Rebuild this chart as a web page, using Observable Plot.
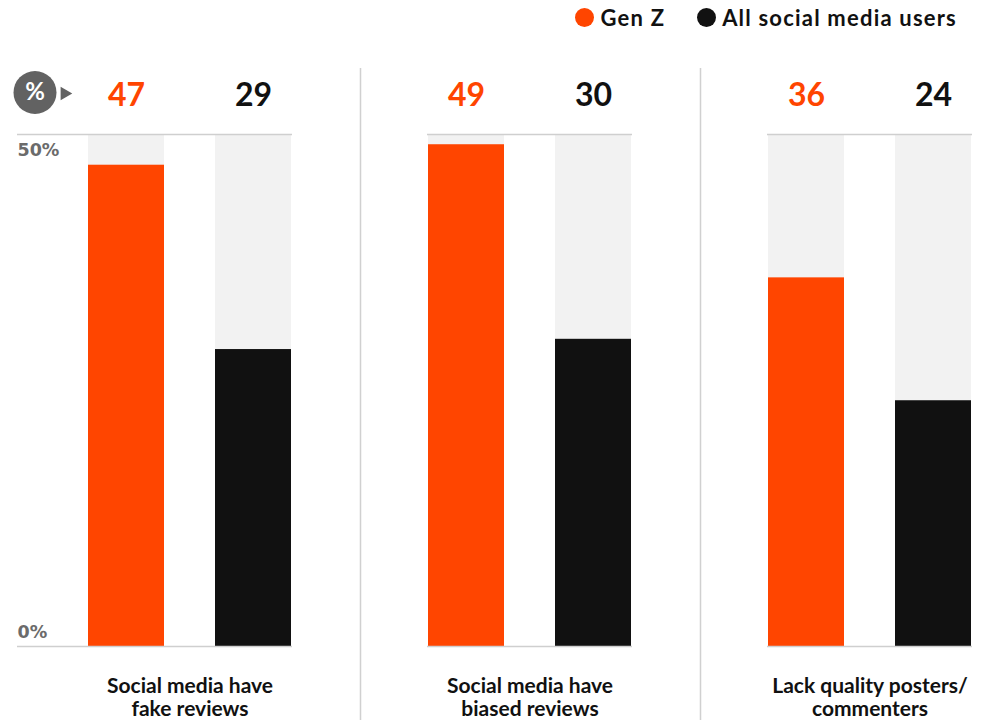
<!DOCTYPE html>
<html><head><meta charset="utf-8">
<script src="https://cdn.jsdelivr.net/npm/d3@7"></script>
<script src="https://cdn.jsdelivr.net/npm/@observablehq/plot@0.6"></script>
<style>
body{margin:0;background:#fff;font-family:Lato,"Open Sans",sans-serif;}
#legend{height:34px;display:flex;justify-content:flex-end;align-items:center;padding-right:27px;font-weight:700;font-size:22px;letter-spacing:1.2px;color:#111;}
.item{display:flex;align-items:center;margin-left:32px}
.sw{width:19px;height:19px;border-radius:50%;margin-right:6px}
</style></head><body>
<div id="legend"></div><div id="chart"></div>
<script>
const categories = ["Social media have\nfake reviews","Social media have\nbiased reviews","Lack quality posters/\ncommenters"];
const series = ["Gen Z","All social media users"];
const genZ = [47,49,36];
const allUsers = [29,30,24];
const yTicks = [0,50];
const scaleMax = 50;
const colors = ["#ff4500","#111111"];

const data = categories.flatMap((c,i) => [
  {category:c, series:series[0], value:genZ[i]},
  {category:c, series:series[1], value:allUsers[i]}
]);

const legend = document.getElementById("legend");
series.forEach((s,i) => {
  const it = document.createElement("div"); it.className = "item";
  const sw = document.createElement("span"); sw.className = "sw"; sw.style.background = colors[i];
  const t = document.createElement("span"); t.textContent = s;
  it.append(sw, t); legend.append(it);
});

const font = "Lato, 'Open Sans', sans-serif";
const tickFont = "'DejaVu Sans', Lato, sans-serif";
const plot = Plot.plot({
  width: 984, height: 686,
  marginLeft: 86, marginRight: 12, marginTop: 100, marginBottom: 74,
  style: {fontFamily: font, background: "#fff", overflow: "visible"},
  fx: {domain: categories, paddingInner: 0.398, paddingOuter: 0, axis: null},
  x: {domain: series, paddingInner: 0.398, paddingOuter: 0, axis: null},
  y: {domain: [0, scaleMax], axis: null},
  color: {domain: series, range: colors},
  marks: [
    Plot.barY(data, {fx: "category", x: "series", y: () => scaleMax, fill: "#f2f2f2"}),
    Plot.barY(data, {fx: "category", x: "series", y: "value", fill: "series"}),
    Plot.ruleY(yTicks, {stroke: "#cfcfcf", strokeWidth: 1.5}),
    Plot.axisY({ticks: yTicks, tickSize: 70, tickFormat: () => "", label: null, stroke: "#cfcfcf", strokeWidth: 1.5}),
    Plot.text([yTicks[1]], {fx: () => categories[0], y: d => d, text: d => d + "%", frameAnchor: "left", dx: -70, dy: 16, textAnchor: "start", lineAnchor: "middle", fill: "#6b6b6b", fontSize: 17.5, fontWeight: "bold", fontFamily: tickFont}),
    Plot.text([yTicks[0]], {fx: () => categories[0], y: d => d, text: d => d + "%", frameAnchor: "left", dx: -70, dy: -14, textAnchor: "start", lineAnchor: "middle", fill: "#6b6b6b", fontSize: 17.5, fontWeight: "bold", fontFamily: tickFont}),
    Plot.text(data, {fx: "category", x: "series", text: d => String(d.value), frameAnchor: "top", lineAnchor: "middle", dy: -39, fill: "series", fontSize: 32, fontWeight: "bold"}),
    Plot.text(categories, {fx: d => d, text: d => d, frameAnchor: "bottom", lineAnchor: "middle", dy: 51, fontSize: 21, fontWeight: "bold", fill: "#111", lineHeight: 1.1}),
    Plot.ruleX(categories.slice(1), {fx: d => d, x: () => series[0], dx: -106, stroke: "#d0d0d0", strokeWidth: 1.5, insetTop: -66, insetBottom: -74}),
    Plot.dot(["%"], {fx: () => categories[0], frameAnchor: "top-left", dx: -52.5, dy: -42, r: 21.5, fill: "#626262"}),
    Plot.dot(["%"], {fx: () => categories[0], frameAnchor: "top-left", dx: -23, dy: -41, r: 5, symbol: "triangle", rotate: 90, fill: "#626262"}),
    Plot.text(["%"], {fx: () => categories[0], frameAnchor: "top-left", textAnchor: "middle", lineAnchor: "middle", dx: -52.5, dy: -42, text: d => d, fill: "#fff", fontSize: 24, fontWeight: "bold"})
  ]
});
document.getElementById("chart").append(plot);
</script>
</body></html>
